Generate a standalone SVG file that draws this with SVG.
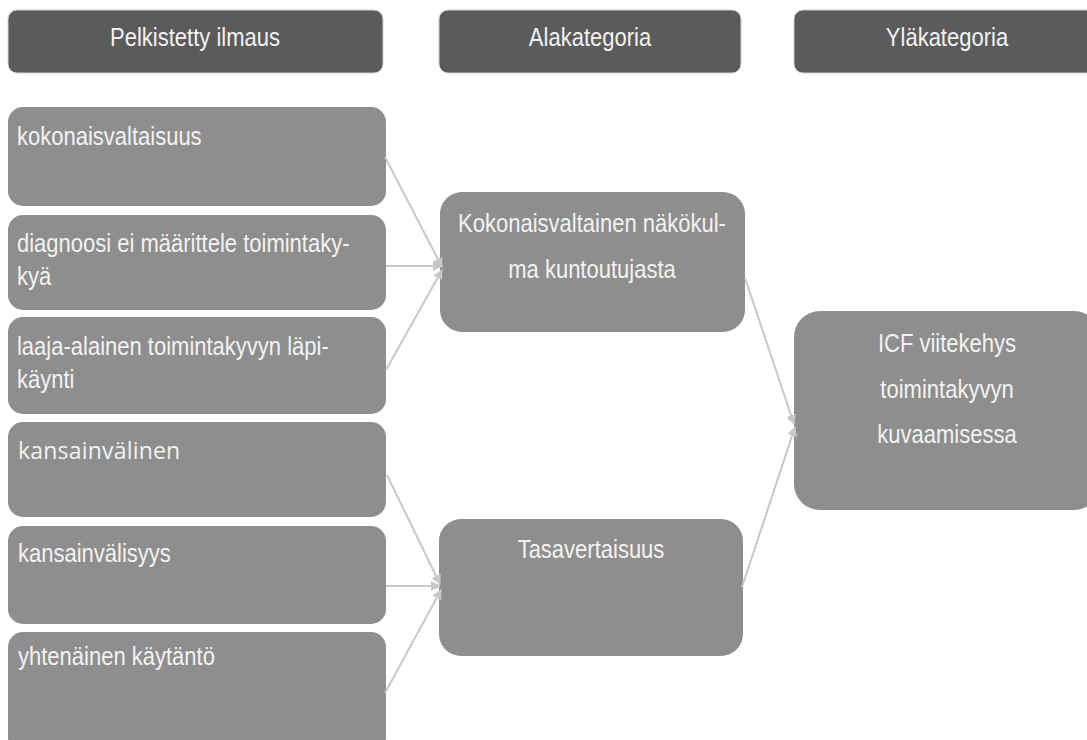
<svg xmlns="http://www.w3.org/2000/svg" width="1087" height="740" viewBox="0 0 1087 740">
<style>
.hdr{fill:#5b5b5b;stroke:#d0d0d0;stroke-width:1}
.box{fill:#8e8e8e}
.t{font-family:"Liberation Sans",Arial,sans-serif;font-size:22px;fill:#f2f2f2;transform-box:fill-box;transform-origin:50% 80%;transform:scaleY(1.13)}
.o{font-family:"Open Sans","DejaVu Sans",sans-serif;font-size:23px;letter-spacing:0.2px;fill:#f2f2f2}
.c{text-anchor:middle}
.conn line{stroke:#c8c8c8;stroke-width:2;fill:none;marker-end:url(#ah)}
</style>
<defs>
<marker id="ah" viewBox="0 0 10 10" refX="9" refY="5" markerWidth="5" markerHeight="5" orient="auto" markerUnits="strokeWidth">
<path d="M0,0 L10,5 L0,10 z" fill="#c8c8c8"/>
</marker>
</defs>
<rect width="1087" height="740" fill="#ffffff"/>
<g id="hdr1"><rect class="hdr" x="8" y="10" width="375" height="63" rx="9"/><text class="t c" x="195" y="46">Pelkistetty ilmaus</text></g>
<g id="hdr2"><rect class="hdr" x="439" y="10" width="302" height="63" rx="9"/><text class="t c" x="590" y="46">Alakategoria</text></g>
<g id="hdr3"><rect class="hdr" x="794" y="10" width="306" height="63" rx="9"/><text class="t c" x="947" y="46">Yläkategoria</text></g>

<g id="n1"><rect class="box" x="8" y="107" width="378" height="99" rx="15"/><text class="t" x="17" y="145">kokonaisvaltaisuus</text></g>
<g id="n2"><rect class="box" x="8" y="215" width="378" height="95" rx="15"/><text class="t" x="17" y="252">diagnoosi ei määrittele toimintaky-</text><text class="t" x="17" y="285">kyä</text></g>
<g id="n3"><rect class="box" x="8" y="317" width="378" height="97" rx="15"/><text class="t" x="17" y="355">laaja-alainen toimintakyvyn läpi-</text><text class="t" x="17" y="388">käynti</text></g>
<g id="n4"><rect class="box" x="8" y="422" width="378" height="95" rx="15"/><text class="o" x="18" y="459">kansainvälinen</text></g>
<g id="n5"><rect class="box" x="8" y="526" width="378" height="98" rx="15"/><text class="t" x="18" y="562">kansainvälisyys</text></g>
<g id="n6"><rect class="box" x="8" y="632" width="378" height="120" rx="15"/><text class="t" x="18" y="665">yhtenäinen käytäntö</text></g>

<g id="m1"><rect class="box" x="440" y="192" width="305" height="140" rx="22"/><text class="t c" x="592" y="232">Kokonaisvaltainen näkökul-</text><text class="t c" x="592" y="278">ma kuntoutujasta</text></g>
<g id="m2"><rect class="box" x="439" y="519" width="304" height="137" rx="22"/><text class="t c" x="591" y="558">Tasavertaisuus</text></g>

<g id="r1"><rect class="box" x="794" y="311" width="306" height="199" rx="26"/><text class="t c" x="947" y="352">ICF viitekehys</text><text class="t c" x="947" y="398">toimintakyvyn</text><text class="t c" x="947" y="443">kuvaamisessa</text></g>

<g class="conn" id="connectors">
<line x1="385" y1="157" x2="442" y2="267"/>
<line x1="386" y1="266" x2="442" y2="266"/>
<line x1="386" y1="370" x2="442" y2="270"/>
<line x1="387" y1="475" x2="440" y2="584"/>
<line x1="386" y1="586" x2="440" y2="586"/>
<line x1="385" y1="693" x2="441" y2="590"/>
<line x1="745" y1="278" x2="794" y2="424"/>
<line x1="742" y1="587" x2="795" y2="427"/>
</g>
</svg>
